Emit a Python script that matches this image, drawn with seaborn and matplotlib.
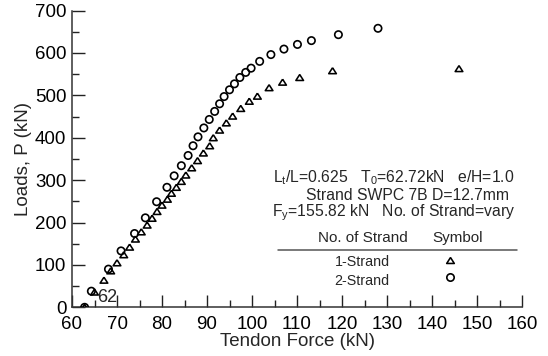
import matplotlib
matplotlib.use("Agg")
import matplotlib.pyplot as plt
from matplotlib.ticker import MultipleLocator
import seaborn as sns
import pandas as pd

# Tendon force (kN) and applied load P (kN)
force_1strand = [62.8, 65.0, 67.1, 68.6, 70.0, 71.5, 72.8, 74.1, 75.4, 76.7,
                 77.8, 78.9, 80.0, 81.2, 82.1, 83.2, 84.3, 85.3, 86.6, 87.9,
                 89.2, 90.6, 91.4, 92.8, 94.3, 95.7, 97.5, 99.4, 101.2, 103.8,
                 106.8, 110.6, 117.9, 146.0]
load_1strand = [0, 36, 64, 86, 105, 124, 142, 161, 178, 194,
                210, 226, 241, 255, 269, 283, 297, 312, 329, 346,
                364, 381, 400, 418, 435, 451, 469, 486, 498, 518,
                531, 542, 558, 563]

force_2strand = [62.8, 64.3, 68.1, 70.9, 73.9, 76.3, 78.8, 81.1, 82.7, 84.3,
                 85.8, 86.9, 88.0, 89.3, 90.5, 91.7, 92.8, 93.8, 95.0, 96.1,
                 97.3, 98.6, 99.8, 101.7, 104.2, 107.1, 110.1, 113.2, 119.2, 128.0]
load_2strand = [0, 38, 90, 133, 174, 211, 249, 283, 310, 334,
                358, 381, 402, 423, 443, 462, 480, 497, 513, 527,
                542, 554, 564, 580, 596, 609, 620, 629, 643, 658]

series_names = ["1-Strand", "2-Strand"]

sns.set_style("ticks")
plt.rcParams["font.family"] = ["Liberation Sans", "DejaVu Sans"]
plt.rcParams["mathtext.fontset"] = "custom"
plt.rcParams["mathtext.rm"] = "Liberation Sans"
plt.rcParams["mathtext.it"] = "Liberation Sans"

df1 = pd.DataFrame({"force": force_1strand, "load": load_1strand, "strand": series_names[0]})
df2 = pd.DataFrame({"force": force_2strand, "load": load_2strand, "strand": series_names[1]})

W, H = 548, 356
fig = plt.figure(figsize=(W / 100, H / 100), dpi=100)
ax = fig.add_axes([72 / W, 1 - 307.3 / H, 450 / W, 296.8 / H])

# open circle and a slightly flattened open triangle
flat_tri = [(0, 0.78), (-1, -0.78), (1, -0.78), (0, 0.78)]
CIRCLE = dict(marker="o", s=28, facecolor="none", edgecolor="black", linewidth=1.2)
TRIANGLE = dict(marker=flat_tri, s=30, facecolor="none", edgecolor="black", linewidth=1.15)

sns.scatterplot(data=df2, x="force", y="load", ax=ax, zorder=3, **CIRCLE)
sns.scatterplot(data=df1, x="force", y="load", ax=ax, zorder=4, **TRIANGLE)

ax.set_xlim(60, 160)
ax.set_ylim(0, 700)
ax.xaxis.set_major_locator(MultipleLocator(10))
ax.xaxis.set_minor_locator(MultipleLocator(5))
ax.yaxis.set_major_locator(MultipleLocator(100))
ax.yaxis.set_minor_locator(MultipleLocator(50))
ax.tick_params(which="major", direction="in", length=9, width=1, labelsize=13.5,
               colors="#222222", labelcolor="black")
ax.tick_params(axis="x", which="major", pad=6)
ax.tick_params(axis="y", which="major", pad=4)
ax.tick_params(which="minor", direction="in", length=5, width=1, colors="#222222")
for side in ("top", "right"):
    ax.spines[side].set_visible(False)
for side in ("left", "bottom"):
    ax.spines[side].set_color("#333333")
    ax.spines[side].set_linewidth(1.1)

ax.set_xlabel("Tendon Force (kN)", fontsize=13.5, labelpad=0)
ax.set_ylabel("Loads, P (kN)", fontsize=13.5, labelpad=2)


def px_text(x, y, s, **kw):
    """Place text at pixel coordinates measured from the top-left corner."""
    fig.text(x / W, 1 - y / H, s, ha="center", va="center", **kw)


def px_point(x, y, style):
    """Draw a symbol at pixel coordinates measured from the top-left corner."""
    fig.add_artist(plt.Line2D([x / W], [1 - y / H], transform=fig.transFigure,
                              marker=style["marker"], linestyle="none",
                              markersize=style["s"] ** 0.5, markerfacecolor="none",
                              markeredgecolor="black",
                              markeredgewidth=style["linewidth"]))


px_text(107, 298, "62", fontsize=13)

# Test parameters
px_text(394, 178, r"L$_\mathregular{t}$/L=0.625   T$_\mathregular{0}$=62.72kN   e/H=1.0",
        fontsize=11.3)
px_text(407, 196, "Strand SWPC 7B D=12.7mm", fontsize=11.3)
px_text(394, 213, r"F$_\mathregular{y}$=155.82 kN   No. of Strand=vary", fontsize=11.3)

# Symbol table
px_text(363, 238, "No. of Strand", fontsize=11)
px_text(458, 238, "Symbol", fontsize=11)
fig.add_artist(plt.Line2D([278 / W, 517 / W], [1 - 250 / H, 1 - 250 / H],
                          transform=fig.transFigure, color="#555555", lw=1.1))
px_text(362, 262, series_names[0], fontsize=10.3)
px_text(362, 281, series_names[1], fontsize=10.3)
px_point(450, 260, TRIANGLE)
px_point(450, 277, CIRCLE)

if ax.get_legend() is not None:
    ax.get_legend().remove()

fig.savefig("out.png", dpi=100)
